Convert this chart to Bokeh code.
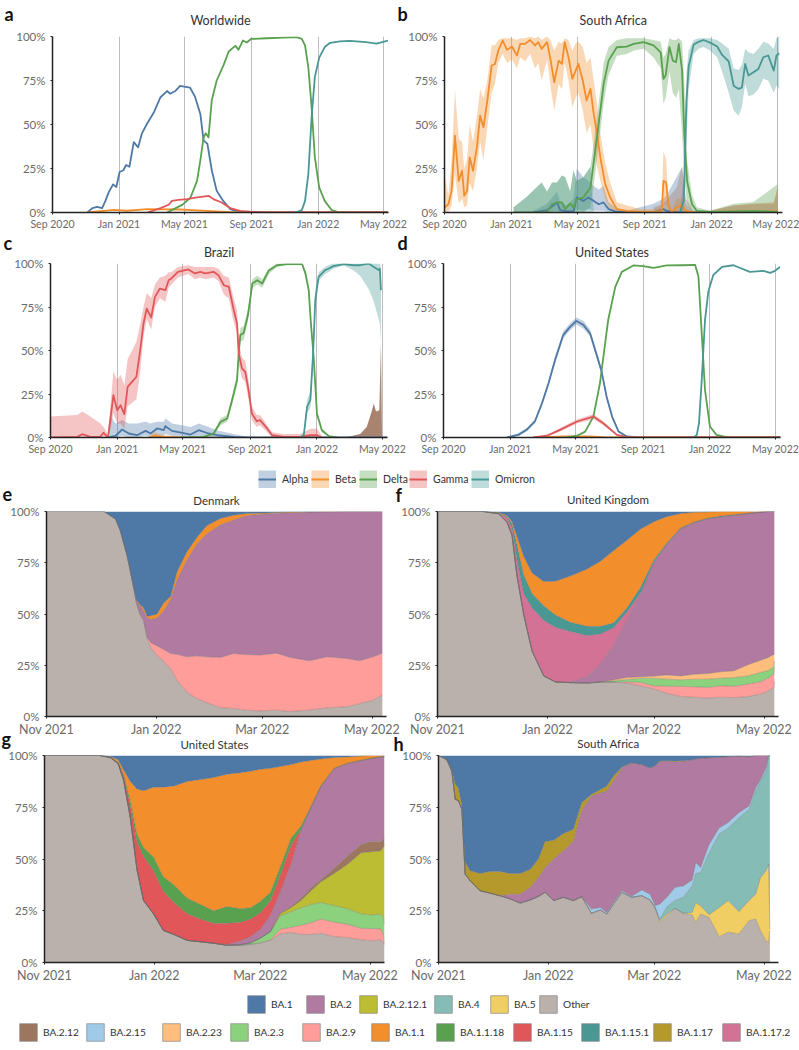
import numpy as np
import pandas as pd
from bokeh.core.properties import value
from bokeh.embed import file_html
from bokeh.resources import INLINE
from bokeh.layouts import column, row
from bokeh.models import (DatetimeTickFormatter, FixedTicker, Legend, LegendItem,
                          PrintfTickFormatter, Range1d)
from bokeh.plotting import figure

COLORS = {"Alpha": "#4e79a7", "Beta": "#f28e2b", "Delta": "#59a14f", "Gamma": "#e15759", "Omicron": "#499894",
          "Other": "#bab0ac", "BA.1": "#4e79a7", "BA.2": "#b07aa1", "BA.2.12.1": "#bcbd32", "BA.4": "#86bcb6",
          "BA.5": "#f1ce63", "BA.2.12": "#9d7660", "BA.2.15": "#a0cbe8", "BA.2.23": "#ffbe7d", "BA.2.3": "#8cd17d",
          "BA.2.9": "#ff9d9a", "BA.1.1": "#f28e2b", "BA.1.1.18": "#59a14f", "BA.1.15": "#e15759",
          "BA.1.15.1": "#499894", "BA.1.17": "#b6992d", "BA.1.17.2": "#d37295"}

VARIANT_TICKS = ["2020-09-01", "2021-01-01", "2021-05-01", "2021-09-01", "2022-01-01", "2022-05-01"]
LINEAGE_TICKS = ["2021-11-01", "2022-01-01", "2022-03-01", "2022-05-01"]
Y_TICKS = [0, 25, 50, 75, 100]

# ---- a: Worldwide (days since 1 Sep 2020, percent)
A_ALPHA_D = [64,73,82,91,97,103,111,117,123,130,135,141,149,157,164,173,186,198,210,216,225,234,252,261,271,277,284,292,301,313,326,338,350,615]
A_ALPHA = [0,2.5,3.2,2.5,6.6,11.4,16,14.5,23,24,27,26,40,37,45,50.3,57,65.5,69,67.5,69,72,71,66,56,41,39,24,12.3,6.6,1.9,.6,0,0]
A_BETA_D = [64,113,137,174,234,283,326,344,615]
A_BETA = [0,1.5,1,1.9,1.7,.9,.2,0,0]
A_DELTA_D = [210,222,238,253,265,271,277,281,286,292,301,314,323,335,341,349,356,364,393,423,448,457,463,469,475,481,489,499,512,524,539,615]
A_DELTA = [0,1.9,4.3,8.5,18,29.5,42.7,45,42.7,63.7,75,84,91.5,94.7,92.5,97.7,96.6,98.6,99,99.4,99.6,98.7,95,82.5,60,31.3,14.2,6.6,1.3,.2,0,0]
A_GAMMA_D = [174,198,213,219,231,247,262,286,295,310,326,344,368,393,615]
A_GAMMA = [0,2.5,4.4,6.6,7.2,7.6,8.5,9.5,7.6,5.7,2.5,.9,.4,0,0]
A_OMICRON_D = [445,457,463,469,475,481,489,499,509,527,545,575,594,615]
A_OMICRON = [0,1.3,6.6,21.8,54,77,88,94,96.4,97.2,97.5,96.8,96,97.7]

# ---- b: South Africa
B_ALPHA_D = [162,187,205,211,223,235,241,253,262,272,281,290,299,311,332,381,399,405,423,433,440,454,607]
B_ALPHA = [0,1.3,5.7,1.3,.6,.6,8.5,6.6,8.5,6.6,4.7,5.7,1.9,.6,0,0,1.9,.9,0,0,0,0,0]
B_ALPHA_HI = [1,5,12,6,4,8,25,20,18,15,13,15,6,3,1,5,8,10,20,26,5,0,0]
B_ALPHA_LO = [0,0,1,0,0,0,2,1,2,1,1,1,0,0,0,0,0,0,0,0,0,0,0]
B_BETA_D = [0,7,13,19,26,32,36,41,46,52,59,65,71,78,86,92,98,106,114,123,132,138,147,156,165,171,177,187,193,200,208,214,219,226,233,239,244,252,259,266,272,278,284,293,302,314,332,357,381,396,399,404,408,414,423,433,439,454,484,527,563,600,607]
B_BETA = [2.8,4.7,12.3,43.6,18,23.7,9.5,12.3,31.3,23.7,37,55,48.4,63.6,83.5,84.4,92,97.7,92.4,94.3,89.2,95.8,95.8,98,94.9,96.8,93,96.8,87.3,74,86.3,84.4,96.8,88.2,75.9,80.6,84.4,75,63.6,70.2,56,44.6,31.3,16,8.5,1.9,.9,.4,.4,.9,18,17,4.7,0,2.8,4.4,.9,0,.3,.5,.5,.5,1]
B_BETA_HI = [22,10,30,70,42,40,25,30,50,40,55,70,65,75,95,95,98,99,99,99,98,99,99,100,99,100,98,100,98,92,97,96,99,98,92,96,97,94,85,88,75,62,45,28,17,6,4,2,2,4,35,30,8,1,8,8,2,0,1,4,5,6,14]
B_BETA_LO = [0,0,4,22,5,8,3,4,17,12,25,40,30,48,68,73,85,90,85,87,82,88,86,90,82,85,75,87,72,58,73,70,85,75,60,65,68,58,45,50,35,26,18,7,2,0,0,0,0,0,4,5,1,0,0,1,0,0,0,0,0,0,0]
B_DELTA_D = [126,150,177,187,196,205,214,220,229,235,241,253,266,273,281,290,299,314,332,345,363,381,394,399,403,410,416,422,427,433,437,442,451,460,484,527,563,607]
B_DELTA = [0,0,.2,.6,4.7,5.7,5.7,1.9,5.2,2.8,7.6,8.5,14.2,31.3,50.3,73,86.3,93.9,94.3,95.8,96.8,94.9,91,75.9,77.8,94,86.3,85.4,95.8,80.7,44.6,18,4.7,.9,.4,.6,.9,.4]
B_DELTA_HI = [3,9,17,12,17,17,21,20,12,24,18,20,26,42,62,85,94,98,99,99,99,98,97,88,90,99,98,98,99,97,75,30,10,3,1,5,6,16]
B_DELTA_LO = [0,0,0,0,0,0,0,0,0,0,0,0,3,18,38,62,78,89,90,92,93,88,82,62,65,80,68,65,70,45,20,5,0,0,0,0,0,0]
B_OMICRON_D = [429,436,441,445,454,463,472,484,497,506,518,527,536,542,548,554,563,572,581,590,600,605,610]
B_OMICRON = [0,6.6,63.6,83,95.4,97,98,96.5,94.3,89.5,85.8,72,70.2,71,84.4,77.8,79.7,81.6,88.2,89.2,80.6,89.2,90.5]
B_OMICRON_HI = [1,20,80,92,98,99,99,99,98,96,93,82,81,84,93,91,90,93,97,96,93,99,100]
B_OMICRON_LO = [0,2,40,70,90,93,94,92,88,80,68,58,55,60,73,66,67,70,76,75,68,72,70]
# low overlapping uncertainty bands of rarer lineages
B_EARLY_D = [126,150,177,187,196,205,214,220,229,235,241,253,266,272]
B_EARLY_HI = [3,9,17,12,17,17,21,20,12,24,18,20,26,0]
B_LATE_D = [381,399,423,433,440,454,484,527,563,600,607]
B_LATE_HI = [3,5,14,26,8,1,1,4,5,5,14]

# ---- c: Brazil
C_ALPHA_D = [105,110,119,131,143,158,174,183,195,207,210,222,241,256,271,289,305,335,365,616]
C_ALPHA = [0,.4,1,4.6,2.3,1.3,3.8,2.3,5.2,4.2,6.5,3.8,2.7,1.7,4.2,2.3,1.3,.4,0,0]
C_ALPHA_HI = [1,12,8,10,8,8,9,8,9,9,11,8,7,6,8,6,4,2,0,0]
C_ALPHA_LO = [0,0,0,1,0,0,1,0,1,1,2,1,0,0,1,0,0,0,0,0]
C_BETA_D = [180,190,205,225,240]
C_BETA = [0,1,.3,.2,0]
C_BETA_HI = [0,3,1.5,1,0]
C_BETA_LO = [0,0,0,0,0]
C_DELTA_D = [238,280,298,311,323,332,341,344,347,353,361,369,378,387,399,414,432,460,466,472,476,481,487,496,509,524]
C_DELTA = [0,.4,2.3,9,10.9,21.5,33,48.3,59,60,70.5,88.5,90.4,88.5,96,99,99.6,99.6,94.3,84.7,65.5,46.4,13.8,4.2,.8,0]
C_DELTA_HI = [0,1,3,11,13,24,36,52,63,64,74,91,93,91,97,100,100,100,96,87,68,49,15,5,1,0]
C_DELTA_LO = [0,0,1,7,9,19,30,45,55,56,67,86,88,86,94,98,99,99,92,82,63,44,12,3,.5,0]
C_GAMMA_D = [0,49,58,73,91,97,105,110,115,122,128,135,141,149,157,164,170,176,184,191,200,210,216,221,233,252,264,274,283,298,307,317,326,335,341,344,350,356,362,368,377,383,396,405,426,457,475,487,496]
C_GAMMA = [0,.4,1.9,.4,.4,2.7,0,11.9,24.3,15.7,18.6,13.4,29.1,32,34.9,50.2,65.5,74.1,69,80.8,85.6,84.7,90.4,91.4,95.2,96.6,94.3,95.2,94.3,95.2,93.3,87.5,86.6,73.2,65.5,48.3,39.7,37.7,27.2,13.8,9.4,10,5.2,1.3,.4,.4,1.3,1.3,0]
C_GAMMA_HI = [12,13,15,12,8,6,2,20,38,33,36,30,45,50,55,65,75,83,80,88,92,93,95,95,98,99,98,98,98,98,97,93,92,80,73,55,46,44,33,18,13,13,7,3,2,2,5,5,1]
C_GAMMA_LO = [0,0,0,0,0,0,0,5,14,8,8,5,18,20,22,38,58,68,62,75,80,78,86,88,92,94,91,92,91,92,90,82,80,66,60,42,34,32,22,10,6,7,3,0,0,0,0,0,0]
C_OMICRON_D = [457,463,469,475,480,484,490,502,508,517,536,554,566,582,591,600,602,604]
C_OMICRON = [0,1.3,17.6,21.5,48.3,78.9,92.3,96.2,97,98.5,99.6,99,99,100,98,96.2,97,84.7]
C_OMICRON_HI = [1,3,22,26,54,84,95,98,99,100,100,100,100,100,100,100,100,98]
C_OMICRON_LO = [0,0,14,17,42,74,90,94,95,97,99,96,93,85,78,68,65,55]
C_OTHER_D = [539,566,578,587,591,595,601,604,606]
C_OTHER = [0,2,6,15,19.5,15,15.7,54,0]

# ---- d: United States
D_ALPHA_D = [116,137,152,167,180,192,204,219,231,243,256,268,280,289,298,308,320,335,359,616]
D_ALPHA = [0,1.5,4.4,9.2,19.7,31.2,44.6,59,63.4,67,64.6,59.8,47.4,37.9,23.6,12.2,3.4,.6,0,0]
D_ALPHA_HI = [.5,2.5,5.5,10.5,21,33,46.5,61,65.5,69,67,62,49.5,40,25.5,13.5,4,1,0,0]
D_ALPHA_LO = [0,1,3.5,8,18,30,43,57,61.5,65,62.5,58,45.5,36,22,11,2.8,.3,0,0]
D_BETA_D = [164,225,268,298,616]
D_BETA = [0,.6,.6,0,0]
D_DELTA_D = [225,244,259,274,286,301,314,326,347,365,384,408,438,460,466,472,478,487,499,518,542,616]
D_DELTA = [0,1,3.4,12,31.2,67.5,86.6,95.2,98.9,98.5,97.5,98.9,99,99.2,92.5,60,27.3,6.3,1.5,.2,0,0]
D_GAMMA_D = [164,189,213,244,274,292,317,335,359,616]
D_GAMMA = [0,1,4.4,9.2,12,8.2,1.5,.2,0,0]
D_GAMMA_HI = [0,1.5,5.4,10.4,13.5,9.4,2,.5,0,0]
D_GAMMA_LO = [0,.5,3.4,8,10.5,7,1,0,0,0]
D_OMICRON_D = [457,463,467,472,478,484,493,509,530,560,585,597,606,615]
D_OMICRON = [0,1.5,8.2,33,67.5,83.7,93.3,98,99,95.2,95.8,94.6,95.8,98]

# ---- e: Denmark, upper edge of each stacked band (days since 1 Nov 2021, percent)
E_D = [0,32,38.4,41,45,47.6,50,52,54,56,58,61.5,65,69,72.6,78,83.7,89,96.6,104,111,118.7,128,135,146,156,167,174,181.5,186.7]
E_OTHER = [100,100,96.3,90.7,77.8,66.6,55.3,49.7,46.5,37.6,33.6,29.6,27.2,23.2,17.5,11.9,8.7,6.8,4.3,3.9,3.1,2.7,3.1,2.4,3.1,4.2,4.7,6.3,7.9,10.6]
E_BA29 = [100,100,96.3,90.7,77.8,66.6,55.3,50,46.8,38.4,36,34.4,32.8,30.7,30.4,29.1,29.6,29.1,28.8,30.7,30.2,30,30.9,28.9,27.2,29.1,28.3,27.2,29.1,30.9]
E_BA2 = [100,100,96.3,90.7,77.8,66.6,56.5,54,51.3,48,47.3,48,51.3,57,66.6,76.2,84.2,89,93.4,95.8,97.9,98.7,99.2,99.4,99.7,99.8,100,100,100,100]
E_BA11 = [100,100,96.3,90.7,77.8,66.6,57,54.5,52.9,48.9,49.2,50,55.3,58.5,70.6,80.2,87.5,93,96.6,98.2,99,99.2,99.5,99.7,99.8,100,100,100,100,100]

# ---- f: United Kingdom
F_D = [0,25.6,33.9,38.5,41.3,44,47.8,52.4,58.9,65.4,73.7,83,90.3,97.7,105,112.6,120,127,134.8,142,149.6,157,164.4,172,179,183,186.3,186.7]
F_OTHER = [100,100,98.9,94.8,88.4,69,49.7,31.9,19.8,16.8,16.5,16.3,16.8,16.8,16.3,15,13.4,11.3,9.8,9.4,9,9.4,9.2,9.7,11,12.3,14.2,17.4]
F_BA29 = F_OTHER[:14] + [16.9,16.6,15,14.7,14.7,14.5,14.2,15,14.7,15.8,16.9,18.7,20.6,23.9]
F_BA23 = F_OTHER[:13] + [17.4,18,18.7,18.7,18.2,17.9,18.2,18.2,18.7,19,19.8,21.5,22.3,24.2,27]
F_BA223 = F_OTHER[:13] + [17.9,19,19.4,19.7,20.3,19.8,20.6,21,21.8,22.3,25.2,27.4,28.7,30.3,30.3]
F_BA2 = [100,100,98.9,94.8,88.4,69,49.7,31.9,19.8,16.8,16.8,19.5,25.4,35,47.1,60,75,83.9,91.6,94.4,96.4,97.4,98.1,99,99.7,100,100,100]
F_BA1172 = [100,100,99,97,92,77,60,53,47,43.5,41.5,39.5,40.3,43.4,51,60.5,75.5,84,91.7,94.5,96.5,97.5,98.2,99,99.7,100,100,100]
F_BA1151 = [100,100,99.2,97.5,94,84,69,60,54,49.5,46,44,44,45.7,53,63,76.5,84.5,92,94.8,96.7,97.8,98.4,99.1,99.7,100,100,100]
F_BA11 = [100,100,99.5,98,95,88,78,70,65.8,66,68.5,72,75.7,81,86,91.5,95,97.5,99,99.6,99.8,100,100,100,100,100,100,100]

# ---- g: United States
G_D = [0,31,36.7,41,44,47.7,51.4,55,60.6,66,72,79.4,86.8,94,101.6,109,114.5,120,125.7,131,137,142.6,148,153.7,161,168.5,176,181.5,187,188.6,189]
G_OTHER = [100,100,99,96,88,70,45,30,23.5,15.5,13.5,10.7,10,9.3,8.3,8.3,8.8,9.3,10.7,13.8,14.5,13.6,13.5,14.1,12.5,12,11,10.5,10.9,9.5,8.5]
G_BA29 = G_OTHER[:16] + [8.9,9.5,11,16,17,18,19.2,21,19.5,18.5,16.5,16.4,16.2,13,9]
G_BA23 = G_OTHER[:15] + [8.6,9.5,11.7,15,22.5,24.5,26.5,28,29,27.5,26,23.5,23,23.3,21.5,18.5]
G_BA2121 = G_OTHER[:15] + [8.6,9.5,11.7,15,23.5,26.5,30,34.5,39,43,47.5,53,53.5,54,56,57]
G_BA212 = G_OTHER[:15] + [8.6,9.5,11.7,15,24,27,31,36,40,45.5,51.5,57,58.5,58.5,60,60.5]
G_BA2 = G_OTHER[:14] + [8.6,10.5,12.5,16,23,34,47.5,64,74.5,85,93.5,96,97.5,98.5,99.3,99.5,99.5]
G_BA115 = [100,100,99,96.5,90,76,58.5,51.5,44.5,34.5,29,23.5,21,19,19,19.5,21,24,30,42,56.5,64.3,74.8,85.2,93.7,96.2,97.6,98.6,99.3,99.5,99.5]
G_BA1118 = [100,100,99,96.8,90.5,78,62,55.5,51,41.5,37.5,31,28,25,27,26,26.5,29.5,34,46,60,66,75.2,85.5,93.9,96.3,97.7,98.7,99.4,99.6,99.6]
G_BA11 = [100,100,99.5,98,93,87.5,83.8,83,84.7,84.7,85.3,87.5,88.4,89.4,91,91.7,92.4,93.4,93.8,94.7,95.6,96.8,97.6,98.3,99,99.3,99.7,100,100,100,100]

# ---- h: South Africa
H_D = [0,4.6,7.4,9.3,11,13,14.8,17.6,23,28.7,34,39.8,45.4,51,55.5,59.3,64,69.4,75,79.6,85,90,93.5,97.2,102,107.4,113,117.6,120.4,123,127,131.5,136,141,143,145.7,150.4,156,161,167,172.6,176.3,179,182,183.5,184.2]
H_OTHER = [100,98,92.5,78.8,78.3,74,42.7,39.5,34.7,33.5,32.3,30.7,28.7,30.2,31.9,33.9,29.9,31.5,29.9,31.8,23.8,25.4,23.4,28.2,33.9,31.5,32.3,30.2,26.6,19.4,22.6,26.2,23.8,23,19.4,23.4,21.8,12.5,14.6,13.8,20.2,21,15.4,10.6,9.8,15.4]
H_BA5 = H_OTHER[:28] + [26.5,20.2,23.4,26.2,23.8,24.2,29,27.4,23.1,26.6,29.9,24.6,29.9,33,41,44.3,47.5,16.2]
H_BA4 = H_OTHER[:29] + [21,27,30,31.5,37,43,43.5,53,62,65,70,74,83,87.6,92.5,100,100]
H_BA215 = H_OTHER[:20] + [25.8,26.6,24.2,29,34.7,32,35,33,27.5,28.2,31.5,36.3,37,39.8,48.3,45.9,57,65,67.6,72.4,75.6,84.4,88.4,94,100,100]
H_BA2 = H_OTHER[:11] + [33,33,36.3,41,45.9,50,54,58.7,73.2,80.4,82,82.8,87.6,94,96.5,95.7,94,94.9,97,97.3,97,97.3,98,98.4,98.6,98.9,99.2,99.4,99.7,99.4,100,100,100,100,100]
H_BA117 = [100,98.2,93,86,84.4,76,48.5,44.3,43,44,44,43,43,45,50,58.5,59,62.3,64.4,77.2,81.2,83.6,85.2,90,94.4,96.5,95.7,94,95,97.3,97.5,97.3,97.5,98,98.4,98.6,98.9,99.2,99.4,99.7,99.4,100,100,100,100,100]

LEGEND_TOP = ["Alpha", "Beta", "Delta", "Gamma", "Omicron"]
LEGEND_TOP_X = [258, 311, 359, 409, 471]
LEGEND_A = ["BA.1", "BA.2", "BA.2.12.1", "BA.4", "BA.5", "Other"]
LEGEND_A_X = [247, 306, 359, 434, 490, 539]
LEGEND_B = ["BA.2.12", "BA.2.15", "BA.2.23", "BA.2.3", "BA.2.9", "BA.1.1", "BA.1.1.18", "BA.1.15", "BA.1.15.1", "BA.1.17", "BA.1.17.2"]
LEGEND_B_X = [19, 86, 162, 230, 302, 371, 436, 513, 581, 653, 722]

PANEL_LETTERS = ["a", "b", "c", "d", "e", "f", "g", "h"]
LETTER_X = [4, 397, 3, 397, 2, 395, 1, 393]
LETTER_Y = [13, 13, 242, 242, 493, 494, 738, 743]

FONT = "Lato"
PAD = 8
ROW3_LIFT = 6
ROW4_LIFT = 10


def dates(start, days):
    return pd.Timestamp(start) + pd.to_timedelta(np.asarray(days, dtype=float), unit="D")


def base(title, start, span, ticks, width, height, left, right, top, bottom, x_size, y_size, title_size, standoff, grid):
    s = pd.Timestamp(start)
    p = figure(width=width, height=height + PAD, x_axis_type="datetime", output_backend="svg", toolbar_location=None,
               x_range=Range1d(s, s + pd.Timedelta(days=span)), y_range=Range1d(0, 100),
               min_border_left=left, min_border_right=right, min_border_top=top, min_border_bottom=bottom + PAD,
               background_fill_color=None, border_fill_color=None, outline_line_color=None)
    tick_ms = [pd.Timestamp(t).value / 1e6 for t in ticks]
    xa, ya = p.xaxis[0], p.yaxis[0]
    xa.ticker = FixedTicker(ticks=tick_ms)
    f = "%b %Y"
    xa.formatter = DatetimeTickFormatter(milliseconds=f, seconds=f, minsec=f, minutes=f, hourmin=f, hours=f, days=f, months=f, years=f, context=None)
    ya.ticker = FixedTicker(ticks=Y_TICKS)
    ya.formatter = PrintfTickFormatter(format="%d%%")
    for ax, size in ((xa, x_size), (ya, y_size)):
        ax.major_label_text_font = FONT
        ax.major_label_text_font_size = size
        ax.major_label_text_color = "#6b6b6b"
        ax.axis_line_color = "#222222"
        ax.axis_line_width = 1.5
        ax.major_tick_line_color = "#222222"
        ax.major_tick_out = 2
        ax.major_tick_in = 0
        ax.minor_tick_line_color = None
    xa.major_label_standoff = 3
    ya.major_label_standoff = 5
    p.ygrid.visible = False
    if grid:
        p.xgrid.ticker = FixedTicker(ticks=tick_ms)
        p.xgrid.grid_line_color = "#bdbdbd"
        p.xgrid.grid_line_width = 1
    else:
        p.xgrid.visible = False
    p.title.text = title
    p.title.align = "center"
    p.title.text_font = FONT
    p.title.text_font_style = "normal"
    p.title.text_font_size = title_size
    p.title.text_color = "#333333"
    p.title.standoff = standoff
    return p


def variant_panel(title, span, width, height, left, right, top, bottom, standoff, series, area=None, shadows=()):
    p = base(title, "2020-09-01", span, VARIANT_TICKS, width, height, left, right, top, bottom, "10.5px", "11.5px", "12.5px", standoff, True)
    for name, d, v, hi, lo in series:
        if hi is not None:
            p.varea(x=dates("2020-09-01", d), y1=lo, y2=hi, fill_color=COLORS[name], fill_alpha=0.35)
    for name, d, hi in shadows:
        p.varea(x=dates("2020-09-01", d), y1=[0] * len(hi), y2=hi, fill_color=COLORS[name], fill_alpha=0.35)
    if area is not None:
        d, v = area
        p.varea(x=dates("2020-09-01", d), y1=[0] * len(v), y2=v, fill_color=COLORS["BA.2.12"], fill_alpha=0.9)
    for name, d, v, hi, lo in series:
        p.line(x=dates("2020-09-01", d), y=v, line_color=COLORS[name], line_width=1.8, line_join="round")
    return p


def stack_panel(title, width, height, left, right, top, bottom, standoff, days, stack):
    p = base(title, "2021-11-01", 189, LINEAGE_TICKS, width, height, left, right, top, bottom, "12.5px", "11.5px", "11.5px", standoff, False)
    x = dates("2021-11-01", days)
    prev = [0] * len(days)
    for name, tops in stack:
        p.varea(x=x, y1=prev, y2=tops, fill_color=COLORS[name])
        prev = tops
    for name, tops in stack[:-1]:
        p.line(x=x, y=tops, line_color="#666666", line_width=0.7, line_alpha=0.5)
    return p


def legend_host(height):
    p = figure(width=799, height=height, x_axis_type=None, y_axis_type=None, x_range=Range1d(0, 1), y_range=Range1d(0, 1),
               output_backend="svg", toolbar_location=None, min_border=0, outline_line_color=None,
               background_fill_color=None, border_fill_color=None)
    p.xgrid.visible = False
    p.ygrid.visible = False
    return p


def add_item(p, label, renderers, x, y, glyph, standoff, font_size):
    leg = Legend(items=[LegendItem(label=label, renderers=renderers)], location=(x, y), orientation="horizontal",
                 padding=0, margin=0, spacing=0, border_line_color=None, background_fill_color=None,
                 glyph_width=glyph, glyph_height=glyph, label_height=glyph, label_standoff=standoff,
                 label_text_font=FONT, label_text_font_size=font_size, label_text_color="#333333", label_text_baseline="middle")
    p.add_layout(leg)


a = variant_panel("Worldwide", 616, 410, 238, 52, 22, 36, 26, 18, [
    ("Alpha", A_ALPHA_D, A_ALPHA, None, None), ("Beta", A_BETA_D, A_BETA, None, None),
    ("Delta", A_DELTA_D, A_DELTA, None, None), ("Gamma", A_GAMMA_D, A_GAMMA, None, None),
    ("Omicron", A_OMICRON_D, A_OMICRON, None, None)])
b = variant_panel("South Africa", 616, 404, 238, 49, 17, 36, 26, 18, [
    ("Alpha", B_ALPHA_D, B_ALPHA, B_ALPHA_HI, B_ALPHA_LO), ("Beta", B_BETA_D, B_BETA, B_BETA_HI, B_BETA_LO),
    ("Delta", B_DELTA_D, B_DELTA, B_DELTA_HI, B_DELTA_LO), ("Omicron", B_OMICRON_D, B_OMICRON, B_OMICRON_HI, B_OMICRON_LO)],
    shadows=[("Omicron", B_EARLY_D, B_EARLY_HI), ("BA.2.12", B_LATE_D, B_LATE_HI)])
c = variant_panel("Brazil", 616, 410, 224, 50, 23, 25, 25, 7, [
    ("Alpha", C_ALPHA_D, C_ALPHA, C_ALPHA_HI, C_ALPHA_LO), ("Beta", C_BETA_D, C_BETA, C_BETA_HI, C_BETA_LO),
    ("Delta", C_DELTA_D, C_DELTA, C_DELTA_HI, C_DELTA_LO), ("Gamma", C_GAMMA_D, C_GAMMA, C_GAMMA_HI, C_GAMMA_LO),
    ("Omicron", C_OMICRON_D, C_OMICRON, C_OMICRON_HI, C_OMICRON_LO)], area=(C_OTHER_D, C_OTHER))
d = variant_panel("United States", 616, 404, 224, 48, 19, 25, 24, 7, [
    ("Alpha", D_ALPHA_D, D_ALPHA, D_ALPHA_HI, D_ALPHA_LO), ("Beta", D_BETA_D, D_BETA, None, None),
    ("Delta", D_DELTA_D, D_DELTA, None, None), ("Gamma", D_GAMMA_D, D_GAMMA, D_GAMMA_HI, D_GAMMA_LO),
    ("Omicron", D_OMICRON_D, D_OMICRON, None, None)])

top_legend = legend_host(26)
for name, x in zip(LEGEND_TOP, LEGEND_TOP_X):
    swatch = top_legend.line(x=[2, 3], y=[2, 2], line_color=COLORS[name], line_alpha=0.35, line_width=18, line_cap="butt")
    stroke = top_legend.line(x=[2, 3], y=[2, 2], line_color=COLORS[name], line_width=2)
    add_item(top_legend, name, [swatch, stroke], x, 0, 18, 6, "10.5px")

e = stack_panel("Denmark", 410, 249 + ROW3_LIFT, 46, 24, 23 + ROW3_LIFT, 19, 9, E_D, [
    ("Other", E_OTHER), ("BA.2.9", E_BA29), ("BA.2", E_BA2), ("BA.1.1", E_BA11), ("BA.1", [100] * len(E_D))])
f = stack_panel("United Kingdom", 404, 249 + ROW3_LIFT, 42, 21, 21 + ROW3_LIFT, 21, 12, F_D, [
    ("Other", F_OTHER), ("BA.2.9", F_BA29), ("BA.2.3", F_BA23), ("BA.2.23", F_BA223), ("BA.2", F_BA2),
    ("BA.1.17.2", F_BA1172), ("BA.1.15.1", F_BA1151), ("BA.1.1", F_BA11), ("BA.1", [100] * len(F_D))])
g = stack_panel("United States", 410, 248 + ROW4_LIFT, 44, 26, 18 + ROW4_LIFT, 22, 9, G_D, [
    ("Other", G_OTHER), ("BA.2.9", G_BA29), ("BA.2.3", G_BA23), ("BA.2.12.1", G_BA2121), ("BA.2.12", G_BA212),
    ("BA.2", G_BA2), ("BA.1.15", G_BA115), ("BA.1.1.18", G_BA1118), ("BA.1.1", G_BA11), ("BA.1", [100] * len(G_D))])
h = stack_panel("South Africa", 404, 248 + ROW4_LIFT, 43, 21, 17 + ROW4_LIFT, 23, 11, H_D, [
    ("Other", H_OTHER), ("BA.5", H_BA5), ("BA.4", H_BA4), ("BA.2.15", H_BA215), ("BA.2", H_BA2),
    ("BA.1.17", H_BA117), ("BA.1", [100] * len(H_D))])

bottom_legend = legend_host(65)
for names, xs, y in ((LEGEND_A, LEGEND_A_X, 35), (LEGEND_B, LEGEND_B_X, 7)):
    for name, x in zip(names, xs):
        r = bottom_legend.quad(left=[2], right=[3], top=[3], bottom=[2], fill_color=COLORS[name], line_color="#8a8a8a", line_width=0.7)
        add_item(bottom_legend, name, [r], x - 2, y, 22, 4, "10.2px")

# transparent page-sized layer that carries the panel letters, in page pixels
letters = figure(width=799, height=1050, x_axis_type=None, y_axis_type=None, x_range=Range1d(0, 799), y_range=Range1d(1050, 0),
                 output_backend="svg", toolbar_location=None, min_border=0, outline_line_color=None,
                 background_fill_color=None, border_fill_color=None, margin=(-1050, 0, 0, 0))
letters.xgrid.visible = False
letters.ygrid.visible = False
letters.text(x=LETTER_X, y=LETTER_Y, text=PANEL_LETTERS, text_font=value(FONT), text_font_style="bold",
             text_font_size="18px", text_color="#111111", text_baseline="alphabetic")

for right_fig in (b, d, f, h):
    right_fig.margin = (0, 0, 0, -15)

page = column(
    row(a, b),
    row(c, d, margin=(-PAD, 0, 0, 0)),
    column(top_legend, margin=(-PAD, 0, 0, 0)),
    row(e, f, margin=(-ROW3_LIFT, 0, 0, 0)),
    row(g, h, margin=(-PAD - ROW4_LIFT, 0, 0, 0)),
    column(bottom_legend, margin=(-PAD, 0, 0, 0)),
    letters,
)
open("out.html", "w").write(file_html(page, INLINE))
